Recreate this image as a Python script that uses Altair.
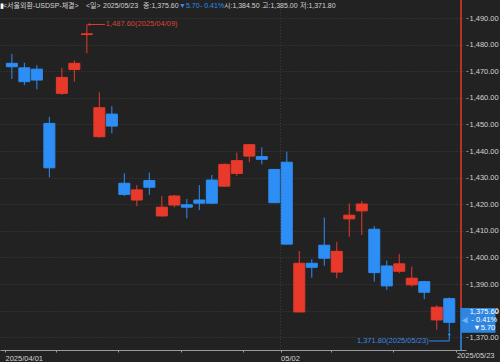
import altair as alt
import pandas as pd

# ---------------- data ----------------
dates = ["04/01", "04/02", "04/03", "04/04", "04/07", "04/08", "04/09", "04/10", "04/11",
         "04/14", "04/15", "04/16", "04/17", "04/18", "04/21", "04/22", "04/23", "04/24",
         "04/25", "04/28", "04/29", "04/30", "05/02", "05/07", "05/08", "05/09", "05/12",
         "05/13", "05/14", "05/15", "05/16", "05/19", "05/20", "05/21", "05/22", "05/23"]
opens = [1473.0, 1471.3, 1470.8, 1450.4, 1461.7, 1470.7, 1483.8, 1445.4, 1453.9,
         1427.9, 1421.6, 1428.9, 1415.6, 1419.7, 1419.8, 1421.6, 1429.1, 1426.8,
         1431.6, 1438.1, 1437.9, 1433.1, 1435.8, 1379.5, 1397.8, 1404.6, 1394.5,
         1414.5, 1417.5, 1410.6, 1396.8, 1394.8, 1389.7, 1390.9, 1376.5, 1384.5]
highs = [1476.5, 1473.2, 1472.3, 1452.9, 1471.3, 1474.0, 1487.6, 1462.1, 1456.9,
         1431.6, 1427.2, 1431.9, 1423.1, 1423.5, 1422.0, 1427.2, 1431.0, 1435.3,
         1439.4, 1442.6, 1441.4, 1433.3, 1439.8, 1402.4, 1399.3, 1415.0, 1405.9,
         1420.3, 1421.2, 1411.8, 1398.8, 1401.3, 1396.6, 1391.2, 1382.1, 1385.0]
lows = [1467.1, 1464.8, 1463.2, 1430.1, 1461.1, 1466.1, 1476.8, 1445.0, 1446.7,
        1423.1, 1419.3, 1423.5, 1415.4, 1418.9, 1414.7, 1417.8, 1420.2, 1426.5,
        1430.7, 1435.8, 1435.0, 1420.5, 1405.0, 1379.4, 1392.4, 1396.9, 1392.2,
        1407.8, 1408.4, 1390.9, 1387.8, 1394.1, 1389.0, 1384.3, 1372.8, 1371.8]
closes = [1471.7, 1466.1, 1466.7, 1433.7, 1467.7, 1473.0, 1484.1, 1456.3, 1449.4,
          1423.7, 1425.4, 1426.4, 1418.9, 1423.1, 1418.9, 1420.4, 1420.4, 1435.0,
          1436.4, 1442.4, 1436.9, 1420.6, 1405.0, 1397.8, 1396.3, 1399.7, 1402.3,
          1415.9, 1420.1, 1394.3, 1389.3, 1397.6, 1392.2, 1386.9, 1381.3, 1375.6]

y_ticks = [1370, 1380, 1390, 1400, 1410, 1420, 1430, 1440, 1450, 1460, 1470, 1480, 1490]
x_tick_pos = [-0.55, 3.5, 8.5, 13.5, 18.5, 21.5, 25.5, 30.5, 35.5]

RED = "#e8392b"
BLUE = "#2d8ef5"
BG = "#222222"
GRID = "#3d3d3d"
TXT = "#d2d2d2"
FONT = "Liberation Sans, Arial, sans-serif"
KFONT = "Liberation Sans, Noto Sans CJK KR, sans-serif"
FS = 7.5

XMIN, XMAX = -0.55, 35.94
YMIN, YMAX = 1365.2, 1496.8

df = pd.DataFrame({"i": list(range(len(dates))), "date": dates, "open": opens,
                   "high": highs, "low": lows, "close": closes})
df["dir"] = ["up" if c >= o else "down" for o, c in zip(opens, closes)]

xs = alt.Scale(domain=[XMIN, XMAX], nice=False, zero=False)
ys = alt.Scale(domain=[YMIN, YMAX], nice=False, zero=False)
cs = alt.Scale(domain=["up", "down"], range=[RED, BLUE])

x_axis = alt.Axis(values=x_tick_pos, grid=False, title=None,
                  labelExpr="datum.value < 0 ? '2025/04/01' : (datum.value == 21.5 ? '05/02' : '')",
                  labelAlign="left", labelFlush=False, labelBound=False, labelOverlap=False,
                  labelColor=TXT, labelFont=FONT, labelFontSize=FS, labelPadding=2,
                  domainColor="#9a9a9a", tickColor="#9a9a9a", tickSize=2)
y_axis = alt.Axis(orient="right", values=y_ticks, format=",.2f", title=None,
                  grid=True, gridColor=GRID, gridDash=[1, 2], domain=False,
                  labelColor=TXT, labelFont=FONT, labelFontSize=FS, labelOverlap=False,
                  labelPadding=1, tickColor="#8a8a8a", tickSize=2)


def X(f):
    return alt.X(f, scale=xs, axis=x_axis)


def Y(f):
    return alt.Y(f, scale=ys, axis=y_axis)


base = alt.Chart(df)

wicks = base.mark_rule(strokeWidth=1).encode(
    x=X("i:Q"), y=Y("low:Q"), y2="high:Q",
    color=alt.Color("dir:N", scale=cs, legend=None),
)

bodies = base.mark_bar(size=11, strokeWidth=1).encode(
    x=X("i:Q"), y=Y("open:Q"), y2="close:Q",
    color=alt.Color("dir:N", scale=cs, legend=None),
    stroke=alt.Color("dir:N", scale=cs, legend=None),
)

# month separator grid line (05/02)
vgrid = alt.Chart(pd.DataFrame({"i": [21.5]})).mark_rule(
    color=GRID, strokeDash=[1, 2]).encode(x=X("i:Q"))

# right edge line: red above current price box, blue below
edge = alt.Chart(pd.DataFrame({"i": [XMAX, XMAX], "y": [YMAX, 1381.0], "y2": [1381.0, YMIN],
                               "c": ["up", "down"]})).mark_rule(strokeWidth=1.5).encode(
    x=X("i:Q"), y=Y("y:Q"), y2="y2:Q",
    color=alt.Color("c:N", scale=cs, legend=None))

# last date label under the price axis
last_date = alt.Chart(pd.DataFrame({"x": [38.62], "y": [1363.0], "t": ["2025/05/23"]})).mark_text(
    color=TXT, font=FONT, fontSize=FS, align="right", baseline="middle").encode(
    x=X("x:Q"), y=Y("y:Q"), text="t:N")

# current price box
box = alt.Chart(pd.DataFrame({"x": [XMAX], "x2": [38.7], "y": [1381.0], "y2": [1371.7]})).mark_rect(
    color="#2f86e0").encode(x=X("x:Q"), x2="x2:Q", y=Y("y:Q"), y2="y2:Q")
notch = alt.Chart(pd.DataFrame({"x": [36.25], "y": [1376.3]})).mark_point(
    shape="triangle-left", filled=True, size=45, color="#6fb2f5", opacity=1).encode(
    x=X("x:Q"), y=Y("y:Q"))
box_txt = alt.Chart(pd.DataFrame({"x": [37.8, 37.8, 37.8],
                                  "y": [1379.6, 1376.6, 1373.6],
                                  "t": ["1,375.60", "- 0.41%", "▼5.70"]})).mark_text(
    color="white", font=FONT, fontSize=FS, align="center", baseline="middle").encode(
    x=X("x:Q"), y=Y("y:Q"), text="t:N")

# low annotation
low_line = alt.Chart(pd.DataFrame({"x": [33.4, 35.0, 35.0], "y": [1368.6, 1368.6, 1371.6],
                                   "o": [0, 1, 2]})).mark_line(color=BLUE, strokeWidth=1).encode(
    x=X("x:Q"), y=Y("y:Q"), order="o:Q")
low_arrow = alt.Chart(pd.DataFrame({"x": [35.0], "y": [1371.3]})).mark_point(
    shape="triangle-up", filled=True, size=10, color=BLUE, opacity=1).encode(
    x=X("x:Q"), y=Y("y:Q"))
low_txt = alt.Chart(pd.DataFrame({"x": [33.35], "y": [1368.6], "t": ["1,371.80(2025/05/23)"]})).mark_text(
    color="#3a8be0", font=FONT, fontSize=FS, align="right", baseline="middle").encode(
    x=X("x:Q"), y=Y("y:Q"), text="t:N")

# high annotation
hi_line = alt.Chart(pd.DataFrame({"x": [6.05, 7.45], "y": [1487.6, 1487.6], "o": [0, 1]})).mark_line(
    color=RED, strokeWidth=1).encode(x=X("x:Q"), y=Y("y:Q"), order="o:Q")
hi_arrow = alt.Chart(pd.DataFrame({"x": [6.15], "y": [1487.6]})).mark_point(
    shape="triangle-left", filled=True, size=10, color=RED, opacity=1).encode(
    x=X("x:Q"), y=Y("y:Q"))
hi_txt = alt.Chart(pd.DataFrame({"x": [7.52], "y": [1487.6], "t": ["1,487.60(2025/04/09)"]})).mark_text(
    color="#d8443a", font=FONT, fontSize=FS, align="left", baseline="middle").encode(
    x=X("x:Q"), y=Y("y:Q"), text="t:N")

# header
head_x = [0.0, 3, 86, 103, 143, 179, 200, 224, 262, 300]
head_t = ["▮", "<서울외환-USDSP-체결>", "<일>", "2025/05/23", "종:1,375.60", "▼5.70", "- 0.41%",
          "시:1,384.50", "고:1,385.00", "저:1,371.80"]
head_c = ["w", "g", "g", "g", "g", "b", "b", "g", "g", "g"]
hdf = pd.DataFrame({"px": head_x, "t": head_t, "c": head_c})
header = alt.Chart(hdf).mark_text(font=KFONT, fontSize=7, align="left", baseline="middle").encode(
    x=alt.X("px:Q", scale=None), y=alt.value(6), text="t:N",
    color=alt.Color("c:N", scale=alt.Scale(domain=["w", "g", "b"], range=["#ffffff", TXT, BLUE]),
                    legend=None))

chart = alt.layer(vgrid, wicks, bodies, edge, last_date, box, notch, box_txt, low_line, low_arrow,
                  low_txt, hi_line, hi_arrow, hi_txt, header).properties(
    width=466, height=350,
    padding={"left": 0, "top": 0, "right": 34, "bottom": 12},
    autosize=alt.AutoSizeParams(type="none"),
    background=BG,
).configure_view(fill=BG, stroke=None).resolve_scale(color="independent")

chart.save("out.html", embed_options={"renderer": "svg", "actions": False})
